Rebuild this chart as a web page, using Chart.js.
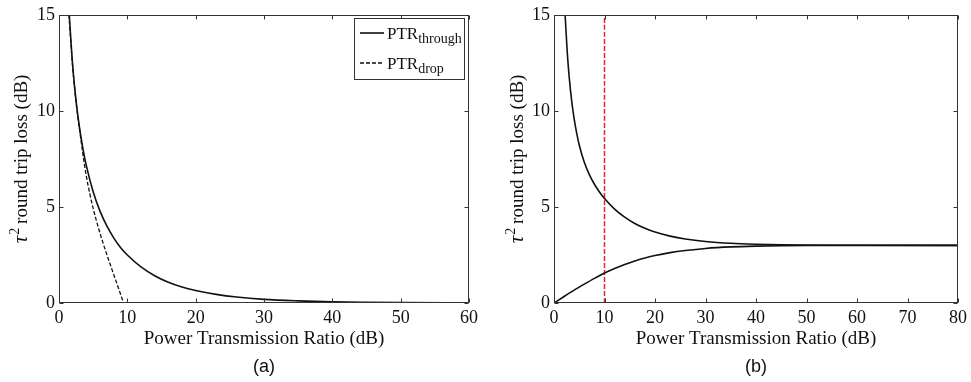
<!DOCTYPE html>
<html>
<head>
<meta charset="utf-8">
<script src="https://cdn.jsdelivr.net/npm/chart.js@4.4.1/dist/chart.umd.min.js"></script>
<style>
html, body { margin: 0; padding: 0; background: #fff; }
#wrap { position: relative; width: 971px; height: 382px; }
canvas { position: absolute; top: 0; }
</style>
</head>
<body>
<div id="wrap">
<canvas id="canvasA" width="485" height="382" style="left:0"></canvas>
<canvas id="canvasB" width="486" height="382" style="left:485px"></canvas>
</div>
<script>
"use strict";

// panel (a)
const ptrThroughA = [1.5, 2, 2.5, 3, 3.5, 4, 5, 6, 7, 8, 9, 10, 12, 14, 16, 18, 20, 23, 26, 30, 35, 40, 45, 50, 60];
const lossThroughA = [15, 12.36, 10.51, 9.13, 8.04, 7.15, 5.79, 4.78, 4.01, 3.39, 2.89, 2.5, 1.88, 1.42, 1.08, 0.83, 0.65, 0.45, 0.31, 0.19, 0.11, 0.06, 0.035, 0.02, 0.007];
const ptrDropA = [1.45, 2, 2.5, 3, 3.5, 4, 4.5, 5, 5.5, 6, 6.5, 7, 7.5, 8, 8.5, 9, 9.45];
const lossDropA = [15, 12.3, 10.45, 9.05, 7.75, 6.6, 5.7, 4.92, 4.25, 3.63, 3.06, 2.52, 2.0, 1.49, 0.98, 0.47, 0];

// panel (b)
const ptrUpperB = [2.2, 2.6, 3, 3.5, 4, 4.5, 5, 6, 7, 8, 9, 10, 12, 14, 16, 18, 20, 23, 26, 30, 35, 40, 45, 50, 60, 80];
const lossUpperB = [15, 13.15, 11.78, 10.52, 9.57, 8.83, 8.22, 7.32, 6.68, 6.18, 5.78, 5.44, 4.89, 4.47, 4.14, 3.89, 3.69, 3.48, 3.33, 3.2, 3.106, 3.057, 3.03, 3.016, 3.005, 3.0];
const ptrLowerB = [0, 2, 4, 6, 8, 10, 12, 14, 16, 18, 20, 23, 26, 30, 35, 40, 45, 50, 60, 80];
const lossLowerB = [0, 0.34, 0.67, 0.98, 1.28, 1.56, 1.8, 2.01, 2.19, 2.34, 2.47, 2.62, 2.73, 2.84, 2.92, 2.96, 2.98, 2.99, 3.0, 3.0];
const markerPtrB = [10, 10];
const markerLossB = [0, 15];

// ticks and labels
const xTicksA = [0, 10, 20, 30, 40, 50, 60];
const xTicksB = [0, 10, 20, 30, 40, 50, 60, 70, 80];
const yTicks = [0, 5, 10, 15];
const xTitle = "Power Transmission Ratio (dB)";
const yTitleRest = " round trip loss (dB)";
const legendNames = ["through", "drop"];

const serif = "'Liberation Serif', 'Times New Roman', serif";
const sans = "'Liberation Sans', Arial, sans-serif";

function pts(xs, ys)
{
    return xs.map((x, i) => ({ x: x, y: ys[i] }));
}

function lineSet(xs, ys, color, dash, width)
{
    return {
        data: pts(xs, ys),
        showLine: true,
        borderColor: color,
        borderWidth: width,
        borderDash: dash,
        pointRadius: 0,
        cubicInterpolationMode: "monotone",
        fill: false,
    };
}

function scalesFor(xMax, xTicks, yWidth)
{
    return {
        x: {
            type: "linear", min: 0, max: xMax,
            afterBuildTicks: s => { s.ticks = xTicks.map(v => ({ value: v })); },
            afterFit: s => { s.height = 79; },
            grid: { display: false, drawTicks: false },
            border: { display: false },
            ticks: { padding: 4, color: "#111", autoSkip: false, maxRotation: 0, font: { family: serif, size: 18 } },
            title: { display: true, text: xTitle, color: "#111", font: { family: serif, size: 19 }, padding: { top: 0, bottom: 32 } },
        },
        y: {
            type: "linear", min: 0, max: 15,
            afterBuildTicks: s => { s.ticks = yTicks.map(v => ({ value: v })); },
            afterFit: s => { s.width = yWidth; },
            grid: { display: false, drawTicks: false },
            border: { display: false },
            ticks: { padding: 4, color: "#111", font: { family: serif, size: 18 } },
        },
    };
}

// box, inward ticks, y title, caption, legend
function framePlugin(caption, yTitleX, legendBox)
{
    return {
        id: "frame",
        afterDraw(chart)
        {
            const ctx = chart.ctx;
            const a = chart.chartArea;
            const xs = chart.scales.x;
            const ys = chart.scales.y;
            const L = Math.round(a.left) + 0.5, R = Math.round(a.right) - 0.5;
            const T = Math.round(a.top) + 0.5, B = Math.round(a.bottom) - 0.5;
            ctx.save();
            ctx.strokeStyle = "#333";
            ctx.lineWidth = 1;
            ctx.setLineDash([]);
            ctx.strokeRect(L, T, R - L, B - T);
            ctx.beginPath();
            xs.ticks.forEach(t => {
                const p = Math.round(xs.getPixelForValue(t.value)) + 0.5;
                ctx.moveTo(p, B); ctx.lineTo(p, B - 4);
                ctx.moveTo(p, T); ctx.lineTo(p, T + 4);
            });
            ys.ticks.forEach(t => {
                const p = Math.round(ys.getPixelForValue(t.value)) + 0.5;
                ctx.moveTo(L, p); ctx.lineTo(L + 4, p);
                ctx.moveTo(R, p); ctx.lineTo(R - 4, p);
            });
            ctx.stroke();

            // y title with italic tau and superscript 2
            ctx.fillStyle = "#111";
            ctx.textBaseline = "alphabetic";
            ctx.textAlign = "left";
            const fTau = "italic 21px " + serif, fSup = "14px " + serif, fRest = "19px " + serif;
            ctx.font = fTau; const wTau = ctx.measureText("\u03C4").width;
            ctx.font = fSup; const wSup = ctx.measureText("2").width;
            ctx.font = fRest; const wRest = ctx.measureText(yTitleRest).width;
            const total = wTau + wSup + wRest;
            ctx.save();
            ctx.translate(yTitleX, (a.top + a.bottom) / 2);
            ctx.rotate(-Math.PI / 2);
            let x0 = -total / 2;
            ctx.font = fTau; ctx.fillText("\u03C4", x0, 6); x0 += wTau + 1;
            ctx.font = fSup; ctx.fillText("2", x0, -2); x0 += wSup - 1;
            ctx.font = fRest; ctx.fillText(yTitleRest, x0, 6);
            ctx.restore();

            // caption
            ctx.font = "18px " + sans;
            ctx.textAlign = "center";
            ctx.textBaseline = "middle";
            ctx.fillText(caption, (a.left + a.right) / 2, 367);

            if (legendBox)
            {
                const lb = legendBox;
                ctx.fillStyle = "#fff";
                ctx.fillRect(lb.x, lb.y, lb.w, lb.h);
                ctx.strokeStyle = "#333";
                ctx.strokeRect(lb.x + 0.5, lb.y + 0.5, lb.w, lb.h);
                chart.data.datasets.forEach((ds, i) => {
                    const yy = lb.y + 15 + i * 30;
                    ctx.strokeStyle = ds.borderColor;
                    ctx.lineWidth = ds.borderWidth;
                    ctx.setLineDash(ds.borderDash);
                    ctx.beginPath();
                    ctx.moveTo(lb.x + 6, yy); ctx.lineTo(lb.x + 30, yy);
                    ctx.stroke();
                    ctx.setLineDash([]);
                    ctx.fillStyle = "#111";
                    ctx.textAlign = "left";
                    ctx.textBaseline = "alphabetic";
                    ctx.font = "17px " + serif;
                    ctx.fillText("PTR", lb.x + 33, yy + 6);
                    const w = ctx.measureText("PTR").width;
                    ctx.font = "14px " + serif;
                    ctx.fillText(legendNames[i], lb.x + 33 + w, yy + 10);
                });
            }
            ctx.restore();
        },
    };
}

let chartA = new Chart(document.querySelector("#canvasA"), {
    type: "scatter",
    data: {
        datasets: [
            lineSet(ptrThroughA, lossThroughA, "#111", [], 1.6),
            lineSet(ptrDropA, lossDropA, "#111", [4, 2], 1.3),
        ],
    },
    options: {
        responsive: false,
        animation: false,
        layout: { padding: { left: 0, right: 16, top: 12, bottom: 0 } },
        plugins: { legend: { display: false }, tooltip: { enabled: false } },
        scales: scalesFor(60, xTicksA, 59),
    },
    plugins: [framePlugin("(a)", 21, { x: 354, y: 18, w: 110, h: 61 })],
});

let chartB = new Chart(document.querySelector("#canvasB"), {
    type: "scatter",
    data: {
        datasets: [
            lineSet(ptrUpperB, lossUpperB, "#111", [], 1.6),
            lineSet(ptrLowerB, lossLowerB, "#111", [], 1.6),
            lineSet(markerPtrB, markerLossB, "#e3262a", [5, 2], 1.5),
        ],
    },
    options: {
        responsive: false,
        animation: false,
        layout: { padding: { left: 0, right: 11, top: 13, bottom: 0 } },
        plugins: { legend: { display: false }, tooltip: { enabled: false } },
        scales: scalesFor(80, xTicksB, 69),
    },
    plugins: [framePlugin("(b)", 32, null)],
});
</script>
</body>
</html>
